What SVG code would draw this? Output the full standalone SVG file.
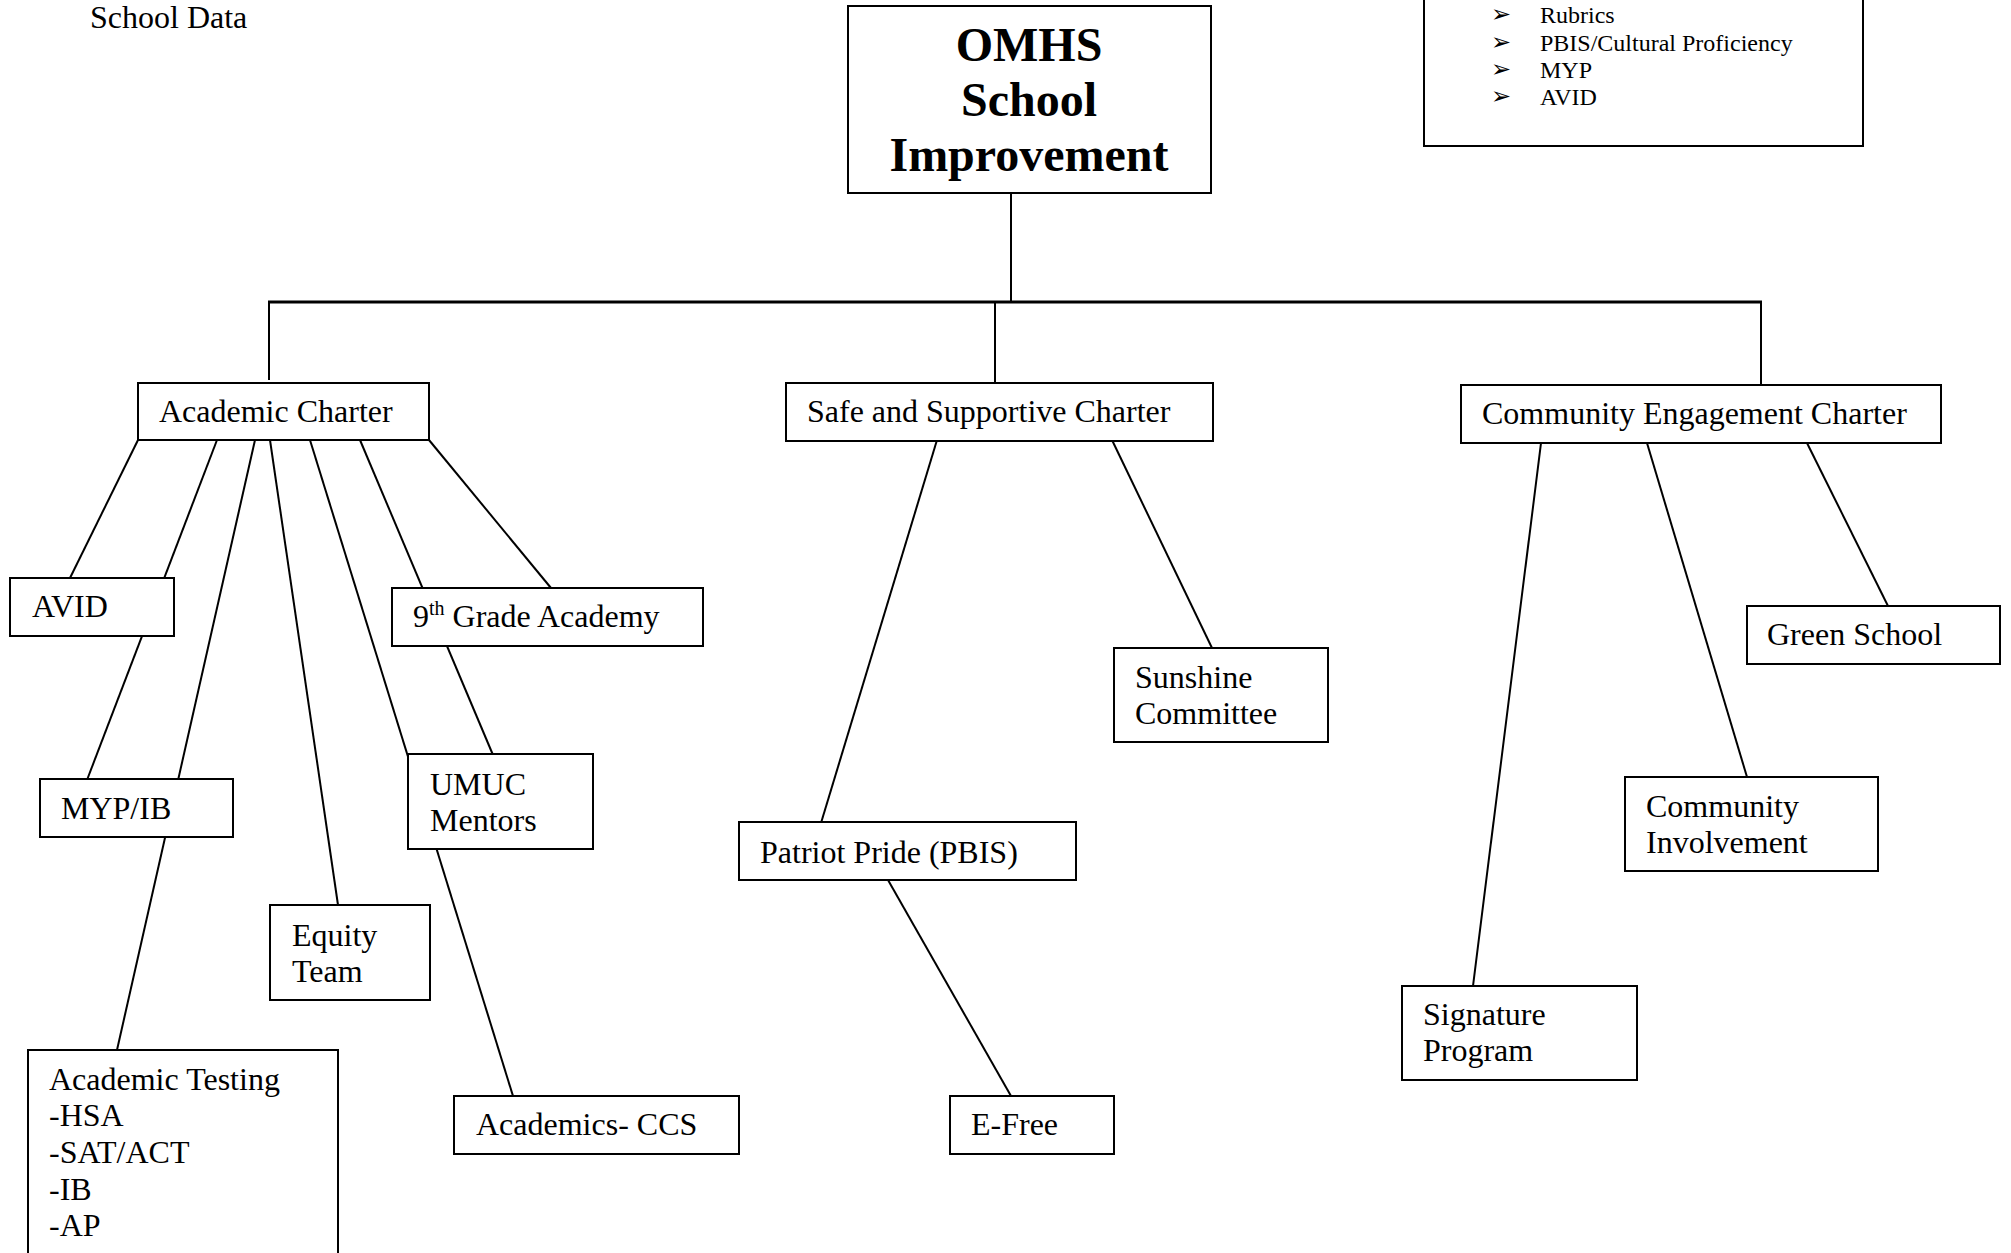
<svg xmlns="http://www.w3.org/2000/svg" width="2011" height="1253" viewBox="0 0 2011 1253">
<style>
.box{fill:#fff;stroke:#000;stroke-width:2}
.t{font-family:"Liberation Serif","Times New Roman",serif;font-size:32px;fill:#000}
.h{font-family:"Liberation Serif","Times New Roman",serif;font-size:48px;font-weight:bold;fill:#000}
.s{font-family:"Liberation Serif","Times New Roman",serif;font-size:24px;fill:#000}
.b{font-family:"DejaVu Sans",sans-serif;font-size:24px;fill:#000}
.c{fill:none;stroke:#000;stroke-width:2}
.m{fill:none;stroke:#000;stroke-width:3}
</style>
<rect width="2011" height="1253" fill="#fff"/>
<text class="t" x="90" y="28">School Data</text>

<g id="connectors">
<polyline class="c" points="1011,193 1011,302"/>
<polyline class="c" points="269,380 269,302"/>
<polyline class="c" points="1761,302 1761,385"/>
<line class="m" x1="268" y1="302" x2="1762" y2="302"/>
<line class="c" x1="995" y1="302" x2="995" y2="383"/>
<line class="c" x1="138" y1="440" x2="70" y2="578"/>
<line class="c" x1="217" y1="440" x2="87" y2="780"/>
<line class="c" x1="255" y1="440" x2="117" y2="1050"/>
<line class="c" x1="270" y1="440" x2="338" y2="905"/>
<line class="c" x1="310" y1="440" x2="513" y2="1096"/>
<line class="c" x1="360" y1="440" x2="493" y2="755"/>
<line class="c" x1="429" y1="440" x2="551" y2="588"/>
<line class="c" x1="937" y1="440" x2="821" y2="823"/>
<line class="c" x1="1112" y1="440" x2="1212" y2="648"/>
<line class="c" x1="888" y1="880" x2="1011" y2="1096"/>
<line class="c" x1="1541" y1="443" x2="1473" y2="986"/>
<line class="c" x1="1647" y1="443" x2="1747" y2="777"/>
<line class="c" x1="1807" y1="443" x2="1888" y2="606"/>
</g>

<g id="legend">
<rect class="box" x="1424" y="-10" width="439" height="156"/>
<text class="b" x="1491" y="22">➢</text>
<text class="s" x="1540" y="23">Rubrics</text>
<text class="b" x="1491" y="50">➢</text>
<text class="s" x="1540" y="51">PBIS/Cultural Proficiency</text>
<text class="b" x="1491" y="77">➢</text>
<text class="s" x="1540" y="78">MYP</text>
<text class="b" x="1491" y="104">➢</text>
<text class="s" x="1540" y="105">AVID</text>
</g>

<g id="root">
<rect class="box" x="848" y="6" width="363" height="187"/>
<text class="h" x="1029" y="61" text-anchor="middle">OMHS</text>
<text class="h" x="1029" y="116" text-anchor="middle">School</text>
<text class="h" x="1029" y="171" text-anchor="middle">Improvement</text>
</g>

<g id="academic-charter">
<rect class="box" x="138" y="383" width="291" height="57"/>
<text class="t" x="159" y="422">Academic Charter</text>
</g>
<g id="safe-charter">
<rect class="box" x="786" y="383" width="427" height="58"/>
<text class="t" x="807" y="422">Safe and Supportive Charter</text>
</g>
<g id="community-charter">
<rect class="box" x="1461" y="385" width="480" height="58"/>
<text class="t" x="1482" y="424">Community Engagement Charter</text>
</g>

<g id="avid">
<rect class="box" x="10" y="578" width="164" height="58"/>
<text class="t" x="32" y="617">AVID</text>
</g>
<g id="ninth-grade">
<rect class="box" x="392" y="588" width="311" height="58"/>
<text class="t" x="413" y="627">9<tspan font-size="20" dy="-12">th</tspan><tspan dy="12"> Grade Academy</tspan></text>
</g>
<g id="myp-ib">
<rect class="box" x="40" y="779" width="193" height="58"/>
<text class="t" x="61" y="819">MYP/IB</text>
</g>
<g id="umuc">
<rect class="box" x="408" y="754" width="185" height="95"/>
<text class="t" x="430" y="795">UMUC</text>
<text class="t" x="430" y="831">Mentors</text>
</g>
<g id="equity">
<rect class="box" x="270" y="905" width="160" height="95"/>
<text class="t" x="292" y="946">Equity</text>
<text class="t" x="292" y="982">Team</text>
</g>
<g id="academic-testing">
<rect class="box" x="28" y="1050" width="310" height="220"/>
<text class="t" x="49" y="1090">Academic Testing</text>
<text class="t" x="49" y="1126">-HSA</text>
<text class="t" x="49" y="1163">-SAT/ACT</text>
<text class="t" x="49" y="1200">-IB</text>
<text class="t" x="49" y="1236">-AP</text>
</g>
<g id="academics-ccs">
<rect class="box" x="454" y="1096" width="285" height="58"/>
<text class="t" x="476" y="1135">Academics- CCS</text>
</g>

<g id="sunshine">
<rect class="box" x="1114" y="648" width="214" height="94"/>
<text class="t" x="1135" y="688">Sunshine</text>
<text class="t" x="1135" y="724">Committee</text>
</g>
<g id="patriot-pride">
<rect class="box" x="739" y="822" width="337" height="58"/>
<text class="t" x="760" y="863">Patriot Pride (PBIS)</text>
</g>
<g id="e-free">
<rect class="box" x="950" y="1096" width="164" height="58"/>
<text class="t" x="971" y="1135">E-Free</text>
</g>

<g id="green-school">
<rect class="box" x="1747" y="606" width="253" height="58"/>
<text class="t" x="1767" y="645">Green School</text>
</g>
<g id="community-involvement">
<rect class="box" x="1625" y="777" width="253" height="94"/>
<text class="t" x="1646" y="817">Community</text>
<text class="t" x="1646" y="853">Involvement</text>
</g>
<g id="signature">
<rect class="box" x="1402" y="986" width="235" height="94"/>
<text class="t" x="1423" y="1025">Signature</text>
<text class="t" x="1423" y="1061">Program</text>
</g>
</svg>
